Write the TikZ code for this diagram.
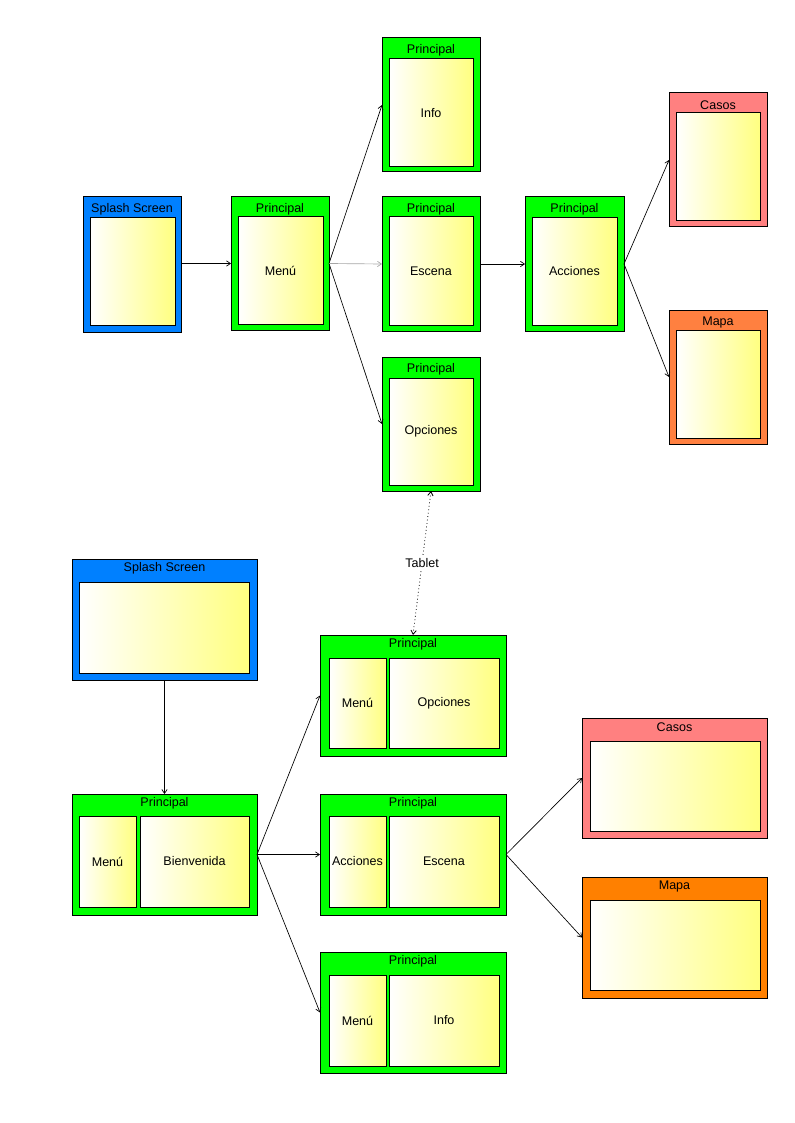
\documentclass[tikz,border=0pt]{standalone}
\usepackage{fontspec}
\setmainfont{Liberation Sans}
\usetikzlibrary{arrows.meta}
\definecolor{ylw}{RGB}{255,255,128}
\definecolor{sblue}{RGB}{0,128,255}
\definecolor{sgreen}{RGB}{0,255,0}
\definecolor{salmon}{RGB}{255,128,128}
\definecolor{orgA}{RGB}{255,128,64}
\definecolor{orgB}{RGB}{255,128,0}
\begin{document}
\begin{tikzpicture}[x=0.75pt,y=-0.75pt,
  sz/.style 2 args={minimum width=#1*0.75pt, minimum height=#2*0.75pt},
  outer/.style={draw=black, line width=0.75pt, inner sep=0pt, outer sep=0pt},
  inbox/.style={draw=black, line width=0.75pt, left color=white, right color=ylw, inner sep=0pt, outer sep=0pt, font=\fontsize{9.4}{10}\selectfont},
  ttl/.style={inner sep=0pt, font=\fontsize{9.4}{10}\selectfont},
  conn/.style={-{Straight Barb[length=3pt,width=4pt]}, line width=0.5pt, draw=black}]
\useasboundingbox (0,0) rectangle (794,1123);

% ---------- top diagram ----------
\node[outer, fill=sblue, sz={98}{135}] (ss1) at (132,264.5) {};
\node[inbox, sz={85}{107}] (ss1i) at (132.5,271.5) {};
\node[ttl] (ss1t) at (132,209) {Splash Screen};

\node[outer, fill=sgreen, sz={98}{133}] (p1) at (280,263.5) {};
\node[inbox, sz={85}{107}] (p1i) at (280.5,270.5) {Menú};
\node[ttl] (p1t) at (280,209) {Principal};

\node[outer, fill=sgreen, sz={98}{134}] (pinfo) at (431,105) {};
\node[inbox, sz={84}{108}] (pinfoi) at (431,113) {Info};
\node[ttl] (pinfot) at (431,50) {Principal};

\node[outer, fill=sgreen, sz={98}{134}] (pesc) at (431,264) {};
\node[inbox, sz={84}{108}] (pesci) at (431,271) {Escena};
\node[ttl] (pesct) at (431,209) {Principal};

\node[outer, fill=sgreen, sz={98}{134}] (popc) at (431,424) {};
\node[inbox, sz={84}{107}] (popci) at (431,431.5) {Opciones};
\node[ttl] (popct) at (431,369) {Principal};

\node[outer, fill=sgreen, sz={99}{134}] (pacc) at (574.5,264) {};
\node[inbox, sz={85}{107}] (pacci) at (574.5,271.5) {Acciones};
\node[ttl] (pacct) at (574.5,209) {Principal};

\node[outer, fill=salmon, sz={98}{134}] (casos1) at (718,160) {};
\node[inbox, sz={84}{108}] (casos1i) at (718,167) {};
\node[ttl] (casos1t) at (718,105) {Casos};

\node[outer, fill=orgA, sz={98}{134}] (mapa1) at (718,377) {};
\node[inbox, sz={84}{108}] (mapa1i) at (718,384) {};
\node[ttl] (mapa1t) at (718,322) {Mapa};

\draw[conn] (ss1.east |- p1.west) -- (p1.west);
\draw[conn] (p1.east) -- (pinfo.west);
\draw[conn, draw=black!35] (p1.east) -- (pesc.west);
\draw[conn] (p1.east) -- (popc.west);
\draw[conn] (pesc.east) -- (pacc.west);
\draw[conn] (pacc.east) -- (casos1.west);
\draw[conn] (pacc.east) -- (mapa1.west);

% ---------- bottom diagram ----------
\node[outer, fill=sblue, sz={185}{121}] (ss2) at (164.5,619.5) {};
\node[inbox, sz={170}{91}] (ss2i) at (164,627.5) {};
\node[ttl] (ss2t) at (164.5,568) {Splash Screen};

\node[outer, fill=sgreen, sz={185}{121}] (pb) at (164.5,854.5) {};
\node[inbox, sz={57}{91}] (pbm) at (107.5,861.5) {Menú};
\node[inbox, sz={109}{91}] (pbb) at (194.5,861.5) {Bienvenida};
\node[ttl] (pbt) at (164.5,803) {Principal};

\node[outer, fill=sgreen, sz={186}{121}] (po) at (413,695.5) {};
\node[inbox, sz={57}{90}] (pom) at (357.5,703) {Menú};
\node[inbox, sz={110}{90}] (poo) at (444,703) {Opciones};
\node[ttl] (pot) at (413,644) {Principal};

\node[outer, fill=sgreen, sz={186}{121}] (pe) at (413,854.5) {};
\node[inbox, sz={57}{91}] (pea) at (357.5,861.5) {Acciones};
\node[inbox, sz={110}{91}] (pee) at (444,861.5) {Escena};
\node[ttl] (pet) at (413,803) {Principal};

\node[outer, fill=sgreen, sz={186}{121}] (pi) at (413,1012.5) {};
\node[inbox, sz={57}{91}] (pim) at (357.5,1020.5) {Menú};
\node[inbox, sz={110}{91}] (pii) at (444,1020.5) {Info};
\node[ttl] (pit) at (413,961) {Principal};

\node[outer, fill=salmon, sz={185}{120}] (casos2) at (674.5,778) {};
\node[inbox, sz={170}{90}] (casos2i) at (675,786) {};
\node[ttl] (casos2t) at (674.5,727) {Casos};

\node[outer, fill=orgB, sz={185}{121}] (mapa2) at (674.5,937.5) {};
\node[inbox, sz={170}{90}] (mapa2i) at (675,945) {};
\node[ttl] (mapa2t) at (674.5,886) {Mapa};

\draw[conn] (ss2.south) -- (pb.north);
\draw[conn] (pb.east) -- (po.west);
\draw[conn] (pb.east) -- (pe.west);
\draw[conn] (pb.east) -- (pi.west);
\draw[conn] (pe.east) -- (casos2.west);
\draw[conn] (pe.east) -- (mapa2.west);

% ---------- tablet link ----------
\draw[{Straight Barb[length=3pt,width=4pt]}-{Straight Barb[length=3pt,width=4pt]}, line width=0.6pt, dotted]
  (popc.south) -- node[fill=white, inner sep=2pt, font=\fontsize{9.4}{10}\selectfont] (tab) {Tablet} (po.north);
\end{tikzpicture}
\end{document}
